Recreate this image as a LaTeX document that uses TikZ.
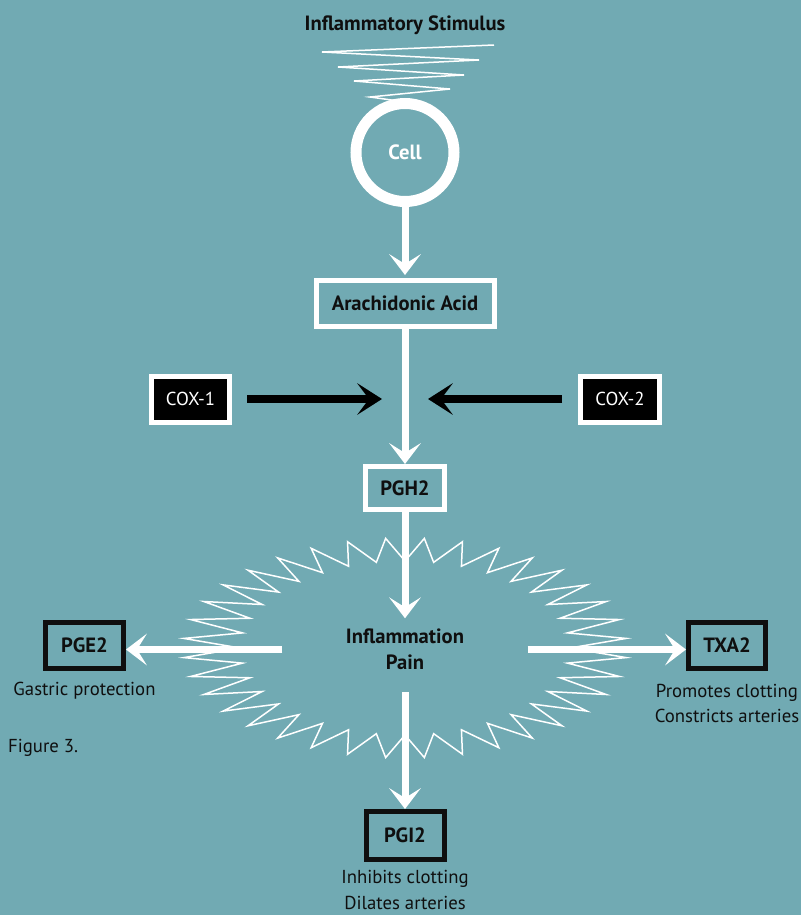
\documentclass[tikz,border=0pt]{standalone}
\usepackage{fontspec}
\setmainfont{PT Sans}
\usetikzlibrary{arrows.meta}

\definecolor{bgteal}{RGB}{113,170,179}
\definecolor{ink}{RGB}{15,15,15}

\newlength\pxl
\setlength\pxl{0.03cm}
\newcommand{\figfont}{\fontsize{16}{22}\selectfont}
\newcommand{\headfont}{\fontsize{17.6}{22}\selectfont\bfseries}

\tikzset{
  every node/.style={font=\figfont, text=ink},
  wbox/.style={draw=white, line width=5\pxl, inner sep=0pt, font=\headfont},
  kbox/.style={draw=ink, line width=5\pxl, inner sep=0pt, font=\headfont},
  coxbox/.style={draw=white, fill=black, text=white, line width=5\pxl, inner sep=0pt},
  flow/.style={draw=white, line width=7\pxl,
    -{Stealth[length=17.9pt, width=27.2pt, inset=8.5pt, line width=0pt]}},
  coxflow/.style={draw=black, line width=8\pxl,
    -{Stealth[length=21.3pt, width=27.2pt, inset=10.2pt, line width=0pt]}},
  zig/.style={draw=white, line width=1.5\pxl, line join=miter},
}

\begin{document}
\begin{tikzpicture}[x=0.03cm, y=-0.03cm]

\useasboundingbox (0,0) rectangle (801,915);
\fill[bgteal] (0,0) rectangle (801,915);

% stimulus zigzag and inflammation burst
\draw[zig] (494,45) -- (322,52) -- (479,60) -- (338,67) -- (464,75) -- (354,81) -- (450,89) -- (370,97) -- (420,104);
\draw[zig, shift={(405,648)}] (0:165 and 87)
  \foreach \a in {0,10,...,350} { -- ({\a+5}:222 and 110) -- ({\a+10}:165 and 87) } -- cycle;

\node[font=\headfont] (stimulus) at (405,25) {Inflammatory Stimulus};
\node[circle, draw=white, line width=11\pxl, minimum size=98\pxl, inner sep=0pt, text=white, font=\headfont] (cell) at (405,152.5) {Cell};
\node[wbox, minimum width=178\pxl, minimum height=46\pxl] (acid) at (405,303.5) {Arachidonic Acid};

\node[coxbox, minimum width=78\pxl, minimum height=46\pxl] (cox1) at (190.5,399) {COX-1};
\node[coxbox, minimum width=79\pxl, minimum height=46\pxl] (cox2) at (620,399) {COX-2};

\node[wbox, minimum width=79\pxl, minimum height=43\pxl] (pgh2) at (405,488) {PGH2};
\node[align=center, inner sep=0pt, minimum width=245\pxl, minimum height=62\pxl, font=\headfont] (infl) at (405,649.5) {Inflammation\\Pain};

\node[kbox, minimum width=78\pxl, minimum height=46\pxl] (pge2) at (84.5,645.5) {PGE2};
\node[kbox, minimum width=77\pxl, minimum height=46\pxl] (txa2) at (727,645.5) {TXA2};
\node[kbox, minimum width=78\pxl, minimum height=48\pxl] (pgi2) at (405,835.5) {PGI2};

\node (pge2note) at (84.5,691) {Gastric protection};
\node[align=center] (txa2note) at (727,703.5) {Promotes clotting\\Constricts arteries};
\node[align=center] (pgi2note) at (405,890) {Inhibits clotting\\Dilates arteries};
\node[anchor=west] (caption) at (4,748) {Figure 3.};

% pathway
\draw[flow, shorten >=3\pxl] (cell) -- (acid);
\draw[flow] (acid) -- (pgh2);
\draw[flow] (pgh2) -- (infl);
\draw[flow] (infl.west) -- (infl.west -| pge2.east);
\draw[flow] (infl.east) -- (infl.east -| txa2.west);
\draw[flow, shorten <=11.5\pxl] (infl) -- (pgi2);

\coordinate (cox1tip) at (382,399);
\coordinate (cox2tip) at (428,399);
\draw[coxflow, shorten <=15\pxl] (cox1) -- (cox1tip);
\draw[coxflow, shorten <=16\pxl] (cox2) -- (cox2tip);

\end{tikzpicture}
\end{document}
